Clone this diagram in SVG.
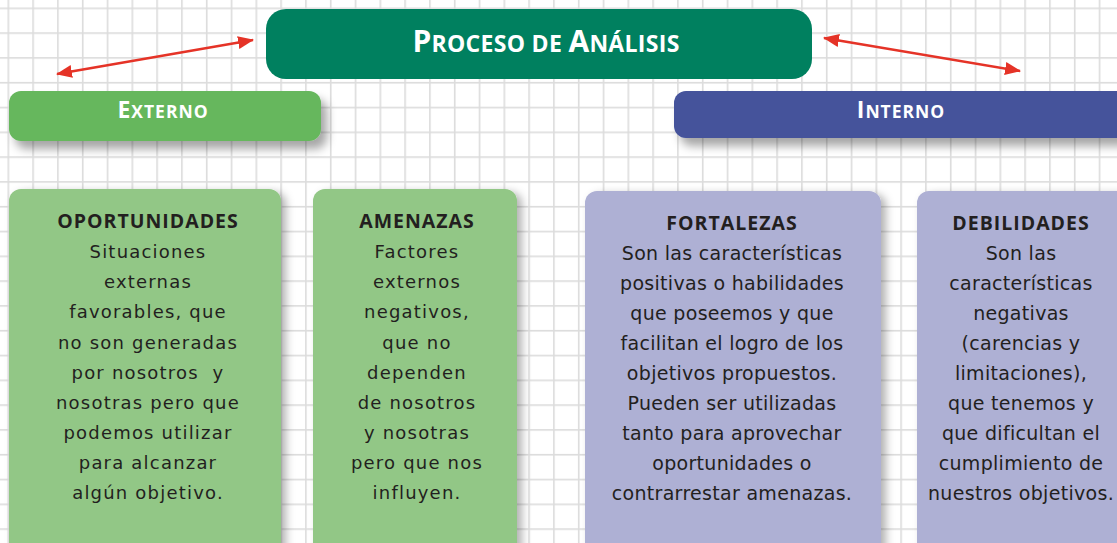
<svg xmlns="http://www.w3.org/2000/svg" width="1117" height="543" viewBox="0 0 1117 543">
  <defs>
    <pattern id="grid" patternUnits="userSpaceOnUse" x="7.5" y="7.5" width="24.8" height="24.8">
      <rect x="0" y="0" width="24.8" height="1.6" fill="#dcdcdc"/>
      <rect x="0" y="0" width="1.6" height="24.8" fill="#dcdcdc"/>
    </pattern>
    <filter id="shHead" x="-10%" y="-40%" width="130%" height="200%">
      <feDropShadow dx="6" dy="8" stdDeviation="5" flood-color="#000" flood-opacity="0.35"/>
    </filter>
    <filter id="shBox" x="-10%" y="-10%" width="130%" height="130%">
      <feDropShadow dx="5" dy="3" stdDeviation="4" flood-color="#000" flood-opacity="0.3"/>
    </filter>
    <marker id="ah" viewBox="0 0 16 13" refX="15" refY="6.5" markerWidth="16" markerHeight="13" markerUnits="userSpaceOnUse" orient="auto-start-reverse">
      <path d="M0,0 L16,6.5 L0,13 Z" fill="#e53327"/>
    </marker>
  </defs>
  <style>
    .hd { font-family: "Open Sans", "DejaVu Sans", sans-serif; font-weight: 700; fill: #ffffff; text-anchor: middle; }
    .bt { font-family: "DejaVu Sans", "Verdana", sans-serif; font-size: 18px; fill: #231f20; text-anchor: middle; }
    .bh { font-family: "Open Sans", "DejaVu Sans", sans-serif; font-weight: 700; font-size: 19.5px; letter-spacing: 1px; }
    .g { letter-spacing: 1.2px; }
    .p { font-size: 19px; letter-spacing: 0.3px; }
    .con { stroke: #e53327; stroke-width: 2.5; fill: none; marker-start: url(#ah); marker-end: url(#ah); }
  </style>

  <rect x="0" y="0" width="1117" height="543" fill="#ffffff"/>
  <rect x="0" y="0" width="1117" height="543" fill="url(#grid)"/>

  <g id="connectors">
    <line class="con" x1="253" y1="40" x2="57" y2="74"/>
    <line class="con" x1="824" y1="38" x2="1020" y2="71"/>
  </g>

  <g id="title">
    <rect x="266" y="9" width="546" height="70" rx="20" fill="#00805f"/>
    <text class="hd" x="546" y="52" font-weight="600" letter-spacing="0.3"><tspan font-size="30">P</tspan><tspan font-size="23">ROCESO DE </tspan><tspan font-size="30">A</tspan><tspan font-size="23">NÁLISIS</tspan></text>
  </g>

  <g id="externo">
    <rect x="9" y="91" width="312" height="50" rx="12" fill="#66b75d" filter="url(#shHead)"/>
    <text class="hd" x="163" y="118" letter-spacing="1"><tspan font-size="23">E</tspan><tspan font-size="17.5">XTERNO</tspan></text>
  </g>

  <g id="interno">
    <rect x="674" y="91" width="460" height="47" rx="12" fill="#44529b" filter="url(#shHead)"/>
    <text class="hd" x="901" y="118" letter-spacing="1"><tspan font-size="23">I</tspan><tspan font-size="17.5">NTERNO</tspan></text>
  </g>

  <g id="oportunidades">
    <rect x="9" y="189" width="272" height="380" rx="12" fill="#92c786" filter="url(#shBox)"/>
    <text class="bt g" x="148"><tspan class="bh" x="148" y="228">OPORTUNIDADES</tspan><tspan x="148" y="258.2">Situaciones</tspan><tspan x="148" y="288.3">externas</tspan><tspan x="148" y="318.4">favorables, que</tspan><tspan x="148" y="348.5">no son generadas</tspan><tspan x="148" y="378.6">por nosotros&#160; y</tspan><tspan x="148" y="408.7">nosotras pero que</tspan><tspan x="148" y="438.8">podemos utilizar</tspan><tspan x="148" y="468.9">para alcanzar</tspan><tspan x="148" y="499">algún objetivo.</tspan></text>
  </g>

  <g id="amenazas">
    <rect x="313" y="189" width="204" height="380" rx="12" fill="#92c786" filter="url(#shBox)"/>
    <text class="bt g" x="417"><tspan class="bh" x="417" y="228">AMENAZAS</tspan><tspan x="417" y="258.2">Factores</tspan><tspan x="417" y="288.3">externos</tspan><tspan x="417" y="318.4">negativos,</tspan><tspan x="417" y="348.5">que no</tspan><tspan x="417" y="378.6">dependen</tspan><tspan x="417" y="408.7">de nosotros</tspan><tspan x="417" y="438.8">y nosotras</tspan><tspan x="417" y="468.9">pero que nos</tspan><tspan x="417" y="499">influyen.</tspan></text>
  </g>

  <g id="fortalezas">
    <rect x="585" y="191" width="296" height="380" rx="12" fill="#aeb0d4" filter="url(#shBox)"/>
    <text class="bt p" x="732"><tspan class="bh" x="732" y="230">FORTALEZAS</tspan><tspan x="732" y="260">Son las características</tspan><tspan x="732" y="290">positivas o habilidades</tspan><tspan x="732" y="320">que poseemos y que</tspan><tspan x="732" y="350">facilitan el logro de los</tspan><tspan x="732" y="380">objetivos propuestos.</tspan><tspan x="732" y="410">Pueden ser utilizadas</tspan><tspan x="732" y="440">tanto para aprovechar</tspan><tspan x="732" y="470">oportunidades o</tspan><tspan x="732" y="500">contrarrestar amenazas.</tspan></text>
  </g>

  <g id="debilidades">
    <rect x="917" y="191" width="230" height="380" rx="12" fill="#aeb0d4" filter="url(#shBox)"/>
    <text class="bt p" x="1021"><tspan class="bh" x="1021" y="230">DEBILIDADES</tspan><tspan x="1021" y="260">Son las</tspan><tspan x="1021" y="290">características</tspan><tspan x="1021" y="320">negativas</tspan><tspan x="1021" y="350">(carencias y</tspan><tspan x="1021" y="380">limitaciones),</tspan><tspan x="1021" y="410">que tenemos y</tspan><tspan x="1021" y="440">que dificultan el</tspan><tspan x="1021" y="470">cumplimiento de</tspan><tspan x="1021" y="500">nuestros objetivos.</tspan></text>
  </g>
</svg>
